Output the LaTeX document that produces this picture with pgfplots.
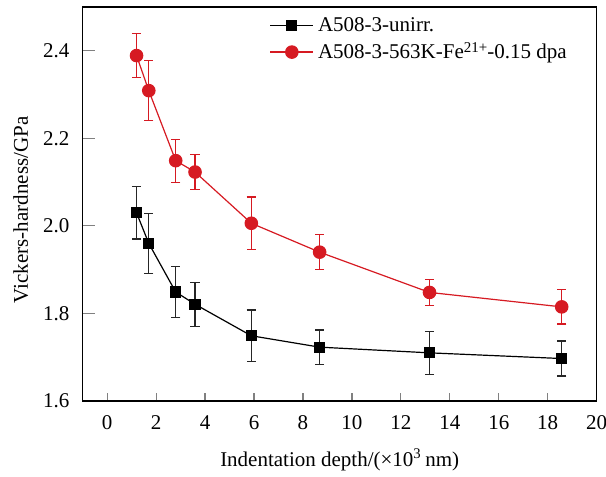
\documentclass[border=0pt]{standalone}
\usepackage{fontspec}
\setmainfont{Liberation Serif}
\usepackage{pgfplots}
\pgfplotsset{compat=1.18}
\definecolor{myred}{RGB}{214,26,34}
\definecolor{myblack}{RGB}{0,0,0}
\begin{document}
\fontsize{10.5}{12.6}\selectfont
\begin{tikzpicture}
\path[use as bounding box] (-41.35pt,-38pt) rectangle (261.65pt,200.5pt);
\begin{axis}[
  scale only axis,
  width=257pt, height=197pt,
  xmin=-1, xmax=20, ymin=1.6, ymax=2.5,
  xtick={0,2,...,20},
  ytick={1.6,1.8,2.0,2.2,2.4},
  tick pos=left,
  tick align=inside,
  axis line style={line width=0.7pt},
  xtick style={line width=0.6pt, /pgfplots/major tick length=4pt},
  ytick style={line width=0.6pt, /pgfplots/major tick length=6pt},
  /pgf/number format/assume math mode=true,
  yticklabel style={/pgf/number format/fixed, /pgf/number format/fixed zerofill, /pgf/number format/precision=1, xshift=-3pt, font=\fontsize{10.5}{12.6}\selectfont},
  xticklabel style={yshift=-3.4pt, font=\fontsize{10.5}{12.6}\selectfont},
  xlabel={Indentation depth/(×10\textsuperscript{3}\,nm)},
  ylabel={Vickers-hardness/GPa},
  xlabel style={at={(axis description cs:0.5,-0.165)}, anchor=base, font=\fontsize{10.5}{12.6}\selectfont},
  ylabel style={at={(axis description cs:-0.1206,0.485)}, anchor=center, font=\fontsize{10.5}{12.6}\selectfont},
  legend style={at={(0.359,0.99)}, anchor=north west, draw=none, fill=none, font=\fontsize{10.5}{12.6}\selectfont, row sep=0pt, inner sep=1pt},
  legend cell align=left,
  legend image code/.code={\draw[mark repeat=2,mark phase=2,#1] plot coordinates {(0cm,0cm)(0.38cm,0cm)(0.76cm,0cm)};},
]
\addplot[myblack, line width=0.6pt, mark=square*, mark size=2.5pt, mark options={solid},
  error bars/.cd, y dir=both, y explicit, error bar style={line width=0.6pt, black!85}, error mark options={rotate=90, mark size=2.3pt, line width=0.6pt, black!85}]
  coordinates {
  (1.20,2.030) +- (0,0.060)
  (1.70,1.960) +- (0,0.068)
  (2.80,1.849) +- (0,0.058)
  (3.59,1.821) +- (0,0.050)
  (5.89,1.749) +- (0,0.059)
  (8.68,1.723) +- (0,0.039)
  (13.17,1.710) +- (0,0.049)
  (18.57,1.697) +- (0,0.040)
};
\addlegendentry{A508-3-unirr.}
\addplot[myred, line width=0.6pt, mark=*, mark size=3.1pt, mark options={solid},
  error bars/.cd, y dir=both, y explicit, error bar style={line width=0.6pt, myred}, error mark options={rotate=90, mark size=2.3pt, line width=0.6pt, myred}]
  coordinates {
  (1.20,2.389) +- (0,0.050)
  (1.70,2.309) +- (0,0.068)
  (2.80,2.149) +- (0,0.049)
  (3.59,2.123) +- (0,0.040)
  (5.89,2.006) +- (0,0.060)
  (8.68,1.940) +- (0,0.040)
  (13.17,1.848) +- (0,0.030)
  (18.57,1.815) +- (0,0.039)
};
\addlegendentry{A508-3-563K-Fe{\fontsize{7.5}{8}\selectfont\raisebox{0.9ex}{21+}}-0.15 dpa}
\end{axis}
\end{tikzpicture}
\end{document}
